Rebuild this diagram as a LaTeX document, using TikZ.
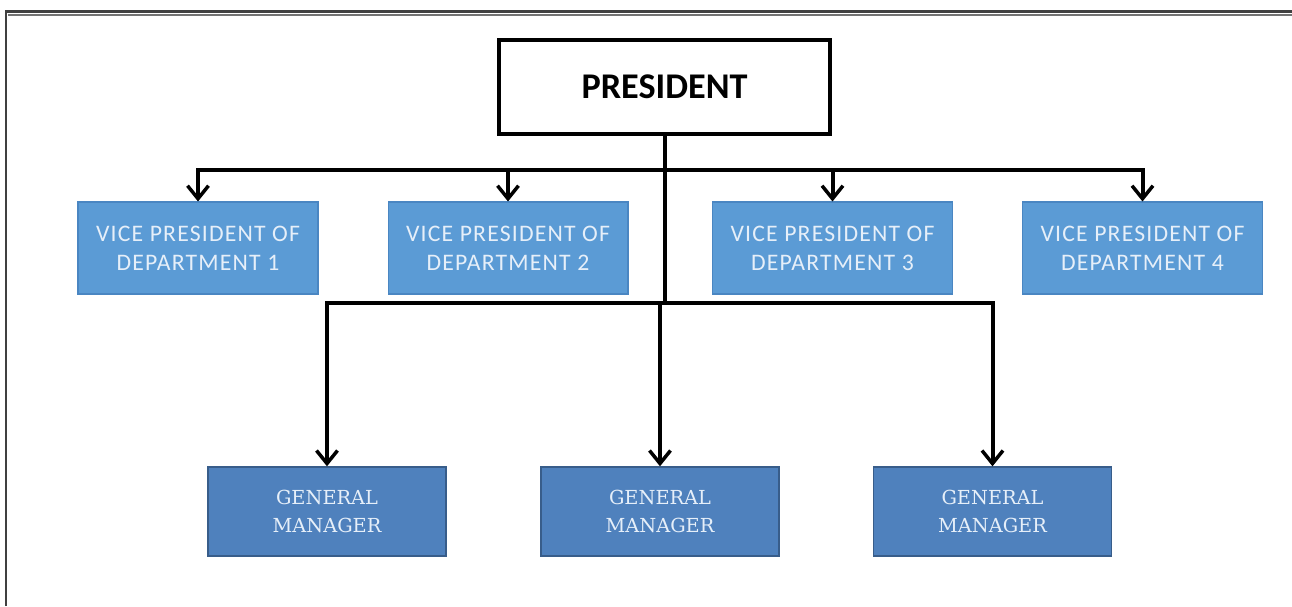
\documentclass[tikz,border=0pt]{standalone}
\usepackage{fontspec}
\setmainfont{DejaVu Serif}
\setsansfont{Carlito}
\newfontfamily\vpfont[LetterSpace=5]{Carlito}
\usetikzlibrary{arrows.meta}

\definecolor{vpblue}{HTML}{5B9BD5}
\definecolor{vpedge}{HTML}{4A86C2}
\definecolor{gmblue}{HTML}{4F81BD}
\definecolor{gmedge}{HTML}{385D8A}
\definecolor{boxtext}{HTML}{E6EFF9}

\tikzset{
	presbox/.style={draw=black, line width=0.08cm, fill=white, minimum width=6.62cm, minimum height=1.88cm, font=\sffamily\bfseries\fontsize{20.6}{24}\selectfont},
	vpbox/.style={draw=vpedge, line width=0.6pt, fill=vpblue, text=boxtext, minimum width=4.8cm, minimum height=1.84cm, align=center, font=\vpfont\fontsize{13.5}{16.5}\selectfont},
	gmbox/.style={draw=gmedge, line width=0.8pt, fill=gmblue, text=boxtext, minimum width=4.76cm, minimum height=1.78cm, align=center, font=\rmfamily\fontsize{11}{16}\selectfont},
	link/.style={line width=0.08cm, black},
	arr/.style={link, -{Straight Barb[length=0.26cm, width=0.42cm, line width=0.07cm]}}
}

\begin{document}
\begin{tikzpicture}[x=0.02cm, y=-0.02cm]
		\useasboundingbox (0,0) rectangle (1292,606);
		% page frame
		\draw[line width=0.05cm, black!75] (6,606) -- (6,11.5) -- (1292,11.5);
		\draw[line width=0.04cm, black!55] (8,14.5) -- (1292,14.5);
		% boxes
		\node[presbox] (pres) at (664.5,87) {PRESIDENT};
		\node[vpbox] (vp1) at (198,248) {VICE PRESIDENT OF\\DEPARTMENT 1};
		\node[vpbox] (vp2) at (508,248) {VICE PRESIDENT OF\\DEPARTMENT 2};
		\node[vpbox] (vp3) at (832.5,248) {VICE PRESIDENT OF\\DEPARTMENT 3};
		\node[vpbox] (vp4) at (1142.5,248) {VICE PRESIDENT OF\\DEPARTMENT 4};
		\node[gmbox] (gm1) at (327,511.5) {GENERAL\\MANAGER};
		\node[gmbox] (gm2) at (660,511.5) {GENERAL\\MANAGER};
		\node[gmbox] (gm3) at (992.5,511.5) {GENERAL\\MANAGER};
		\coordinate (vpbus) at (664.5,170);
		\coordinate (gmbus) at (664.5,303);
		% connectors
		\draw[link] (pres.south) -- (gmbus);
		\foreach \v in {vp1,vp2,vp3,vp4}
			\draw[arr] (vpbus) -| (\v.north);
		\foreach \g in {gm1,gm2,gm3}
			\draw[arr] (gmbus) -| (\g.north);
		\end{tikzpicture}
\end{document}
